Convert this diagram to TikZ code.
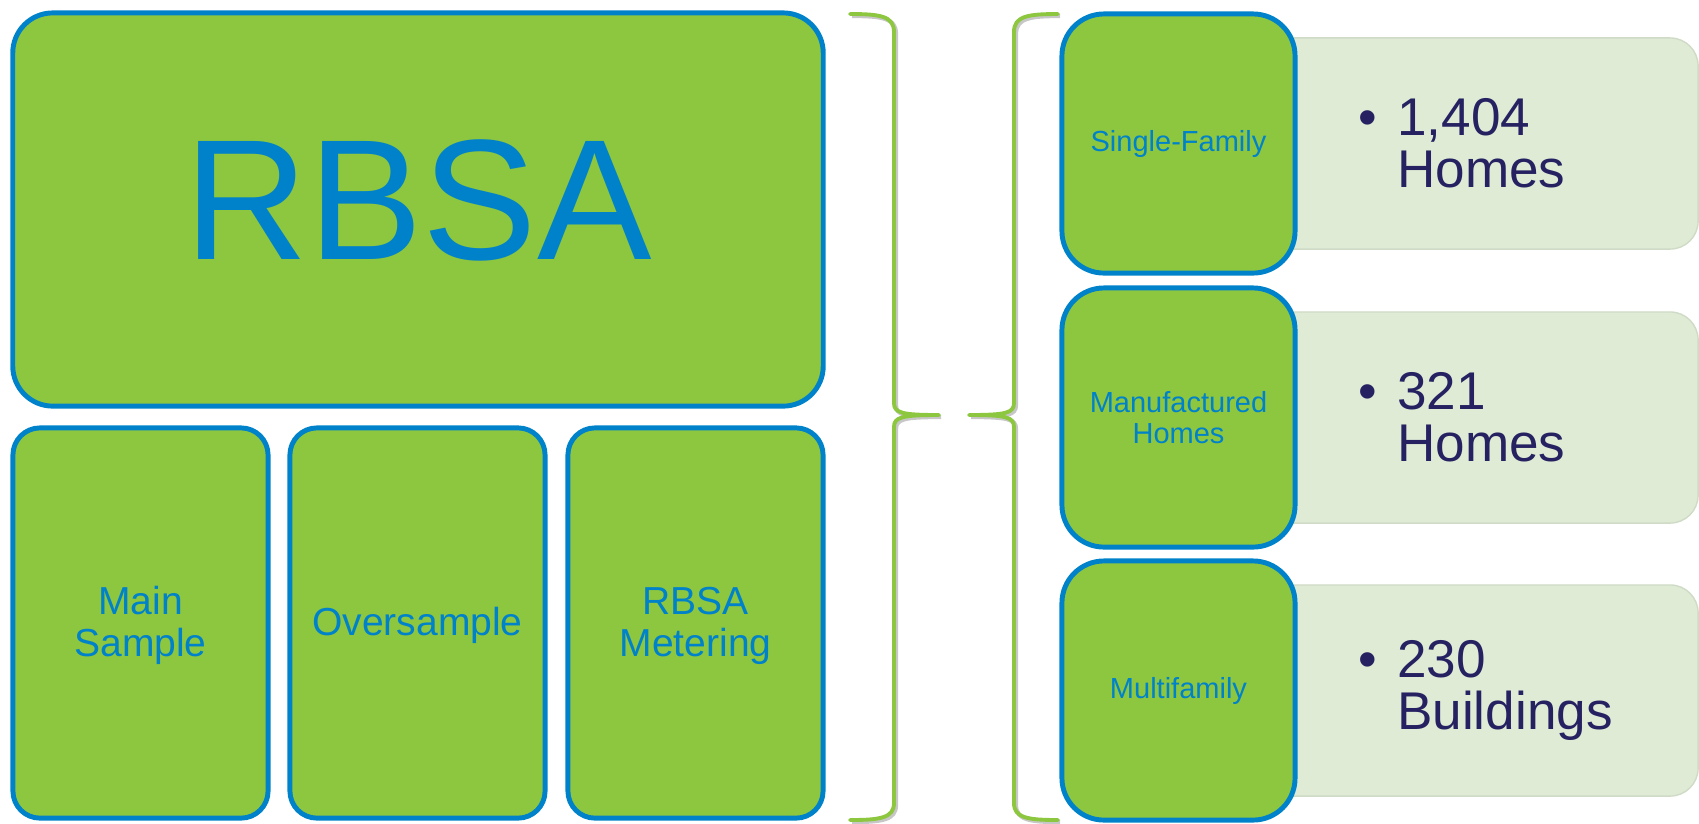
\documentclass[tikz,border=0pt]{standalone}
\usepackage{fontspec}
\setmainfont{Liberation Sans}
\usepackage{tikz}
\usetikzlibrary{calc}

\definecolor{leafgreen}{RGB}{141,198,63}
\definecolor{rimblue}{RGB}{0,130,202}
\definecolor{palegreen}{RGB}{223,235,213}
\definecolor{inknavy}{RGB}{38,34,98}

\begin{document}
\begin{tikzpicture}
      [
        x=0.01cm, y=-0.01cm,
        block/.style={draw=rimblue, fill=leafgreen, line width=1.4pt, text=rimblue, align=center, inner sep=0pt},
        bigblock/.style={block, rounded corners=0.4cm, minimum width=8.1cm, minimum height=3.93cm,
          font=\fontsize{48.8pt}{50pt}\selectfont, text depth=0.2cm},
        subblock/.style={block, rounded corners=0.27cm, minimum width=2.55cm, minimum height=3.9cm,
          font=\fontsize{11.1pt}{12pt}\selectfont},
        kindblock/.style={block, rounded corners=0.42cm, minimum width=2.33cm, minimum height=2.59cm,
          font=\fontsize{8.25pt}{8.6pt}\selectfont},
        countbar/.style={fill=palegreen, draw=palegreen!93!black, line width=0.4pt, rounded corners=0.28cm,
          minimum width=4.48cm, minimum height=2.11cm, inner sep=0pt},
        counttext/.style={anchor=west, inner sep=0pt, align=left, text=inknavy,
          font=\fontsize{15.1pt}{14.9pt}\selectfont},
        curly/.style={draw=leafgreen, line width=1.1pt, line cap=round, line join=round,
          preaction={draw=black!22, line width=1.2pt, transform canvas={shift={(0.02cm,-0.02cm)}}}}
      ]
      \useasboundingbox (0,0) rectangle (1699,823);
      \clip (0,0) rectangle (1699,823);
      % RBSA
      \node [bigblock] (rbsa) at (418,209.5) {RBSA};
      % parts of the study
      \node [subblock] (main) at (140.5,623) {\rule{0pt}{0.33cm}Main\\Sample};
      \node [subblock] (over) at (417.5,623) {\rule{0pt}{0.33cm}Oversample};
      \node [subblock] (meter) at (695.5,623) {\rule{0pt}{0.33cm}RBSA\\Metering};
      % braces
      \draw [curly] (850,14) .. controls (880,14) and (894,16) .. (894,32) -- (894,403)
        .. controls (894,413) and (902,415) .. (939,415)
        .. controls (902,415) and (894,417) .. (894,427) -- (894,803)
        .. controls (894,818) and (880,820) .. (850,820);
      \draw [curly] (1058,14) .. controls (1028,14) and (1014,16) .. (1014,32) -- (1014,403)
        .. controls (1014,413) and (1006,415) .. (969,415)
        .. controls (1006,415) and (1014,417) .. (1014,427) -- (1014,803)
        .. controls (1014,818) and (1028,820) .. (1058,820);
      % home types and counts
      \foreach \row/\yc/\kind/\num/\unit in {sf/143.5/Single-Family/{1,404}/Homes,
          mh/417.5/{Manufactured\\Homes}/321/Homes, mf/690.5/Multifamily/230/Buildings} {
          \node [countbar] (bar-\row) at (1474,\yc) {};
          \node [kindblock] (kind-\row) at (1178.5,\yc) {\kind};
          \node [counttext] (count-\row) at ($(kind-\row.east)+(60,0)$)
            {\makebox[0.39cm][l]{\textbullet}\num\\\hspace*{0.39cm}\unit};
      }
    \end{tikzpicture}
\end{document}
